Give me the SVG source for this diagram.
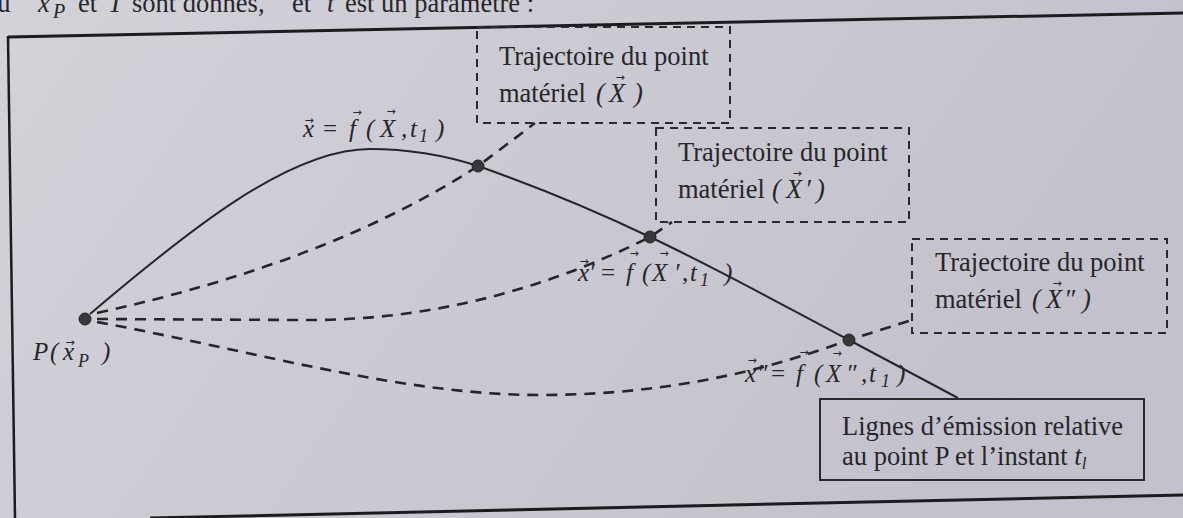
<svg xmlns="http://www.w3.org/2000/svg" width="1183" height="518" viewBox="0 0 1183 518">
<defs>
<linearGradient id="paper" x1="0" y1="0" x2="1" y2="0.3">
<stop offset="0" stop-color="#d3d2d9"/>
<stop offset="1" stop-color="#c3c1cb"/>
</linearGradient>
<style>
.txt{font-family:"Liberation Serif","Times New Roman",serif;font-size:26.5px;fill:#26262a}
.it{font-style:italic}
.math{font-family:"Liberation Serif","Times New Roman",serif;font-style:italic;font-size:25px;fill:#26262a}
.up{font-style:normal}
.sub{font-size:18px}
.vec{font-family:"DejaVu Sans",sans-serif;font-size:11px;font-style:normal;text-anchor:middle}
.dbox{fill:none;stroke:#2a2a2e;stroke-width:2;stroke-dasharray:8 6}
.sbox{fill:none;stroke:#2a2a2e;stroke-width:2}
.solid{fill:none;stroke:#26262a;stroke-width:2}
.dash{fill:none;stroke:#26262a;stroke-width:2.6;stroke-dasharray:11 8}
.dot{fill:#38383c;stroke:#222;stroke-width:1}
.frame{fill:none;stroke:#1c1c20}
</style>
</defs>
<rect x="0" y="0" width="1183" height="518" fill="url(#paper)"/>
<text class="txt" font-size="30" y="12"><tspan x="-16">ou</tspan><tspan class="it" x="38">x</tspan><tspan class="it" font-size="20" x="53" y="18">P</tspan><tspan x="78" y="12">et</tspan><tspan class="it" x="108">T</tspan><tspan x="132">sont donnés,</tspan><tspan x="292">et</tspan><tspan class="it" x="327">t</tspan><tspan x="345">est un paramètre :</tspan></text>
<g id="frame">
<line class="frame" x1="8" y1="37" x2="1183" y2="13" stroke-width="3"/>
<line class="frame" x1="8" y1="36" x2="15" y2="518" stroke-width="2.5"/>
<line class="frame" x1="150" y1="518" x2="1183" y2="495" stroke-width="3"/>
</g>
<g id="connectors">
<path class="solid" d="M90,314 C190,229 290,149 370,149 C410,149 450,157 478,166 C535,186 600,213 650,237 C720,270 790,309 849,340 L958,398"/>
<path class="dash" d="M97,313 Q330,262 478,166 Q505,146 535,123"/>
<path class="dash" d="M97,319 L300,320 Q480,322 650,237 L672,222"/>
<path class="dash" d="M97,322 C250,350 400,395 540,395 C680,395 780,365 849,340 L912,320"/>
</g>
<g id="points">
<circle class="dot" cx="85" cy="319" r="6"/>
<circle class="dot" cx="478" cy="166" r="6"/>
<circle class="dot" cx="650" cy="237" r="6"/>
<circle class="dot" cx="849" cy="340" r="6"/>
</g>
<g id="label-P">
<text class="math" y="360"><tspan x="33">P</tspan><tspan x="50">(</tspan><tspan x="63">x</tspan><tspan class="sub" x="78" y="367">P</tspan><tspan x="102" y="360">)</tspan><tspan class="vec" x="70" y="346">→</tspan></text>
</g>
<g id="label-x">
<text class="math" y="137"><tspan x="303">x</tspan><tspan class="up" x="323">=</tspan><tspan x="349">f</tspan><tspan x="366">(</tspan><tspan x="380">X</tspan><tspan x="401">,</tspan><tspan x="410">t</tspan><tspan class="sub" x="419" y="142">1</tspan><tspan x="436" y="137">)</tspan><tspan class="vec" x="309" y="124">→</tspan><tspan class="vec" x="357" y="116">→</tspan><tspan class="vec" x="391" y="115">→</tspan></text>
</g>
<g id="label-x1">
<text class="math" y="281"><tspan x="578">x</tspan><tspan x="589">′</tspan><tspan class="up" x="601">=</tspan><tspan x="626">f</tspan><tspan x="642">(</tspan><tspan x="652">X</tspan><tspan x="674">′</tspan><tspan x="682">,</tspan><tspan x="690">t</tspan><tspan class="sub" x="700" y="286">1</tspan><tspan x="724" y="281">)</tspan><tspan class="vec" x="584" y="265">→</tspan><tspan class="vec" x="634" y="257">→</tspan><tspan class="vec" x="664" y="257">→</tspan></text>
</g>
<g id="label-x2">
<text class="math" y="382"><tspan x="745">x</tspan><tspan x="757">″</tspan><tspan class="up" x="771">=</tspan><tspan x="796">f</tspan><tspan x="814">(</tspan><tspan x="826">X</tspan><tspan x="846">″</tspan><tspan x="861">,</tspan><tspan x="869">t</tspan><tspan class="sub" x="881" y="387">1</tspan><tspan x="897" y="382">)</tspan><tspan class="vec" x="752" y="364">→</tspan><tspan class="vec" x="804" y="356">→</tspan><tspan class="vec" x="837" y="357">→</tspan></text>
</g>
<g id="box-X">
<rect class="dbox" x="477" y="27" width="253" height="96"/>
<text class="txt" x="499" y="65">Trajectoire du point</text>
<text class="txt" y="102"><tspan x="499">matériel</tspan><tspan class="it" x="596">(</tspan><tspan class="it" x="609">X</tspan><tspan class="it" x="634">)</tspan><tspan class="vec" x="620" y="81">→</tspan></text>
</g>
<g id="box-X1">
<rect class="dbox" x="656" y="128" width="253" height="94"/>
<text class="txt" x="678" y="161">Trajectoire du point</text>
<text class="txt" y="198"><tspan x="678">matériel</tspan><tspan class="it" x="772">(</tspan><tspan class="it" x="786">X</tspan><tspan class="it" x="805">′</tspan><tspan class="it" x="816">)</tspan><tspan class="vec" x="797" y="177">→</tspan></text>
</g>
<g id="box-X2">
<rect class="dbox" x="912" y="239" width="255" height="94"/>
<text class="txt" x="935" y="271">Trajectoire du point</text>
<text class="txt" y="308"><tspan x="935">matériel</tspan><tspan class="it" x="1032">(</tspan><tspan class="it" x="1046">X</tspan><tspan class="it" x="1064">″</tspan><tspan class="it" x="1082">)</tspan><tspan class="vec" x="1057" y="287">→</tspan></text>
</g>
<g id="box-emission">
<rect class="sbox" x="820" y="399" width="324" height="81"/>
<text class="txt" x="842" y="435">Lignes d’émission relative</text>
<text class="txt" x="842" y="465">au point P et l’instant <tspan class="it">t</tspan><tspan class="it" font-size="17" dy="4">l</tspan></text>
</g>
</svg>
